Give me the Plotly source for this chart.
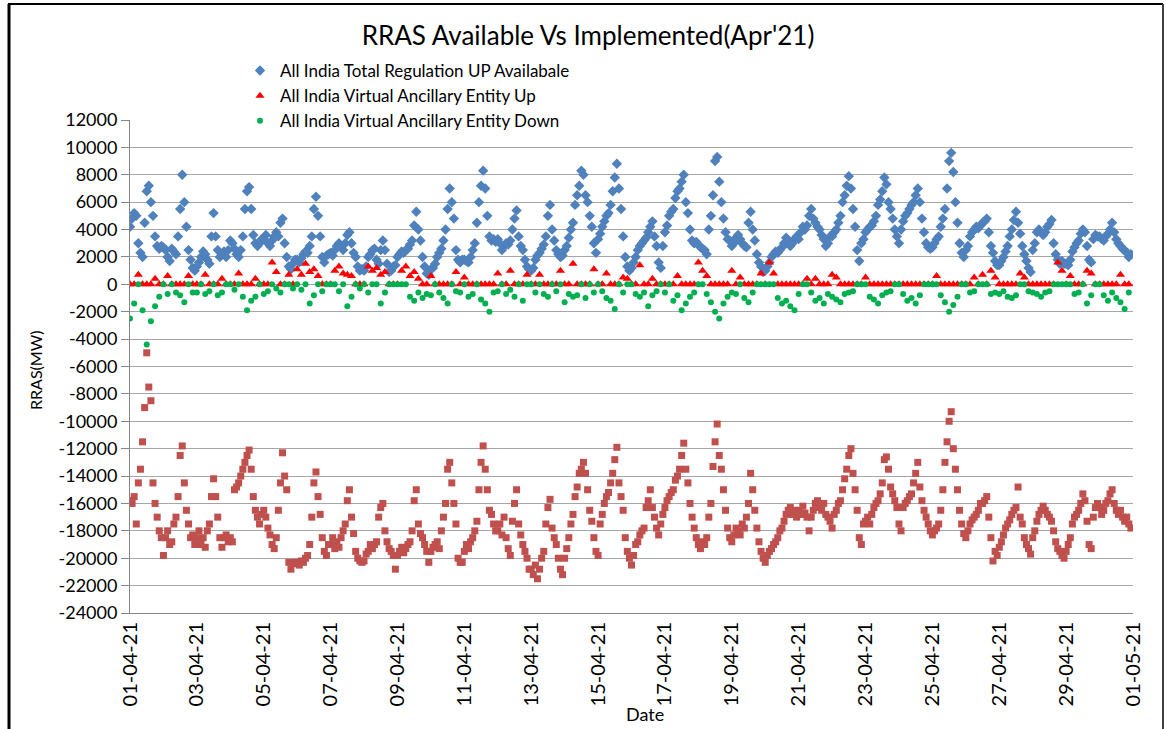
import pandas as pd
import plotly.graph_objects as go

start_date = "2021-04-01"
n_days = 30

# ---- All India Total Regulation UP Availabale (MW), 1.5-hourly, 16 per day ----
reg_up_available = [
    4200, 4800, 5200, 5000, 3000, 2300, 2000, 4500, 6800, 7200, 6000, 5000, 3500, 2800, 2600, 2800,  # 01-04
    2700, 2500, 2000, 1700, 2600, 2400, 2200, 3500, 5500, 8000, 6000, 4200, 2500, 1800, 1200, 1000,  # 02-04
    1300, 1600, 2000, 2400, 2200, 1800, 1500, 3500, 5200, 3500, 2500, 2000, 2200, 2400, 2000, 2500,  # 03-04
    3200, 3000, 2600, 2200, 2000, 2500, 3500, 5500, 6800, 7100, 5500, 3600, 3000, 2800, 3000, 3300,  # 04-04
    3300, 3600, 3000, 2800, 3200, 3500, 3800, 3500, 4500, 4800, 3000, 2000, 1300, 1100, 1500, 1800,  # 05-04
    1800, 1600, 1900, 2200, 2400, 2300, 2800, 3500, 5500, 6400, 5000, 3500, 2000, 1600, 2100, 2200,  # 06-04
    2300, 2100, 2500, 2800, 3000, 2700, 2500, 3000, 3600, 3800, 3000, 2300, 2000, 1300, 1000, 1100,  # 07-04
    1000, 1300, 2000, 2200, 2500, 2600, 1800, 1500, 2500, 3200, 2500, 1500, 900, 1000, 1300, 1400,    # 08-04
    2000, 2200, 2400, 2300, 2500, 2600, 2900, 3200, 4300, 5300, 4000, 3200, 2000, 1300, 800, 700,     # 09-04
    1100, 1200, 1500, 2000, 2300, 2600, 3200, 4000, 5500, 7000, 6000, 4800, 2500, 1800, 1600, 1800,  # 10-04
    1800, 1700, 1600, 2000, 2500, 3000, 4500, 6000, 7200, 8300, 7000, 5000, 3500, 3200, 3300, 3100,  # 11-04
    3300, 3000, 2500, 2800, 3000, 2900, 3200, 4000, 4800, 5400, 3500, 2800, 2500, 1800, 1300, 1100,  # 12-04
    1000, 1200, 1800, 2100, 2300, 2600, 2900, 3500, 5000, 5800, 4000, 3200, 2500, 2200, 2000, 2100,  # 13-04
    2500, 2800, 3400, 4000, 4500, 5800, 6500, 7200, 8300, 8000, 6500, 6000, 5000, 4200, 3000, 2300,  # 14-04
    3300, 3700, 4200, 4600, 5000, 5200, 5800, 6800, 7800, 8800, 7000, 5500, 3500, 2000, 1300, 1000,  # 15-04
    1200, 1600, 2000, 2500, 2800, 3000, 3200, 3400, 3800, 4200, 4600, 3500, 2800, 1600, 1200, 2800,  # 16-04
    3800, 4300, 5000, 5300, 5500, 6300, 6800, 7000, 7500, 8000, 6000, 5200, 4000, 3200, 3000, 3100,  # 17-04
    2900, 2700, 2600, 2500, 2200, 4000, 5000, 6500, 9000, 9300, 7500, 6000, 4800, 3800, 3300, 3200,  # 18-04
    2800, 3000, 3400, 3600, 3300, 3000, 2800, 2700, 4500, 5300, 4000, 3200, 2200, 1600, 1300, 900,   # 19-04
    1000, 1300, 1600, 2000, 2200, 2400, 2300, 2500, 2700, 3000, 3400, 3200, 2800, 3000, 3300, 3500,  # 20-04
    3300, 3800, 4200, 4000, 4300, 5000, 5500, 4800, 4500, 4200, 4000, 3600, 3300, 2800, 3000, 3500,  # 21-04
    3500, 3800, 4000, 4500, 5000, 6000, 6500, 7200, 7900, 7000, 5500, 4200, 2500, 1700, 3000, 3300,  # 22-04
    3800, 4000, 4200, 4300, 4600, 5000, 5800, 6200, 6800, 7800, 7300, 6000, 5500, 4800, 4000, 3500,  # 23-04
    3000, 4000, 4600, 5000, 5200, 5500, 5800, 6000, 6500, 7000, 6000, 4800, 3800, 3000, 2700, 2600,  # 24-04
    2700, 3000, 3300, 3500, 4200, 4800, 5500, 7000, 9000, 9600, 8200, 6000, 4500, 3000, 2300, 2000,  # 25-04
    2500, 2800, 3500, 3800, 4000, 4200, 4100, 4300, 4500, 4600, 4800, 3800, 2800, 2300, 1700, 1400,  # 26-04
    1400, 1700, 2000, 2400, 2800, 3500, 4000, 4700, 5300, 4500, 3700, 2800, 2200, 1700, 1200, 900,   # 27-04
    2500, 3000, 3800, 4000, 3800, 3600, 3800, 4200, 4400, 4700, 3000, 2200, 1800, 1500, 1700, 1500,  # 28-04
    1500, 1400, 1800, 2400, 2700, 3000, 3200, 3700, 4000, 3800, 2800, 1800, 1600, 3300, 3600, 3500,  # 29-04
    3500, 3300, 3200, 3500, 3700, 4000, 4500, 3800, 3300, 3000, 2800, 2600, 2500, 2300, 2000, 2200,  # 30-04
]

# ---- All India Total Regulation DOWN Available (MW), 1.5-hourly, 16 per day ----
reg_down_available = [
    -15800, -16000, -15500, -17500, -14500, -13500, -11500, -9000, -5000, -7500, -8500, -14500, -16000, -17000, -18000, -18500,
    -19800, -18500, -18000, -19000, -18800, -17500, -17000, -15500, -12500, -11800, -14500, -16500, -17500, -18500, -18300, -19000,
    -18500, -18000, -19000, -18500, -19200, -18000, -17500, -15500, -14200, -15500, -17000, -18500, -19200, -18500, -18300, -18800,
    -18500, -18800, -15000, -14800, -14500, -14000, -13500, -13000, -12500, -12100, -13500, -15500, -16500, -17000, -17500, -16800,
    -16500, -17000, -17800, -18300, -19000, -19300, -18500, -16500, -14500, -12300, -14000, -15000, -20300, -20800, -20400, -20300,
    -20300, -20500, -20200, -20300, -20000, -19800, -19000, -17000, -14500, -13700, -15500, -16800, -18500, -19500, -19800, -19000,
    -19000, -18500, -19300, -18800, -19200, -18500, -18000, -17500, -15800, -15000, -17000, -18200, -19500, -20000, -20200, -20300,
    -20200, -19700, -19500, -19000, -19300, -19000, -18800, -17000, -16300, -16000, -18000, -18800, -19300, -19500, -19800, -20800,
    -19800, -19500, -19200, -19600, -19300, -19000, -18800, -18000, -15800, -15000, -17500, -18200, -18500, -19000, -19500, -20300,
    -19500, -19200, -19000, -18800, -19300, -18000, -17000, -16000, -13500, -13000, -14500, -16000, -17500, -20000, -20300, -20300,
    -19500, -19000, -19300, -18800, -18500, -18000, -17300, -15000, -13000, -11800, -13500, -15000, -16500, -16800, -17500, -18000,
    -18000, -17500, -18300, -17000, -18500, -19300, -19800, -17300, -16000, -15000, -17500, -18300, -19000, -19500, -20000, -20800,
    -20800, -21200, -20500, -21500, -20800, -20000, -19500, -17500, -16300, -15700, -17800, -18500, -19000, -20000, -20800, -21200,
    -20000, -19300, -18500, -17500, -16800, -15500, -14800, -13800, -13500, -13000, -13800, -15000, -16500, -17300, -18500, -19500,
    -19800, -17500, -16800, -16000, -15500, -15200, -14500, -13800, -12800, -11900, -14500, -15500, -16500, -18500, -19500, -20000,
    -20500, -19800, -19000, -18800, -18300, -18000, -17800, -16300, -15800, -15000, -16300, -17000, -17800, -18300, -17500, -16800,
    -16300, -15800, -15500, -15200, -15000, -14300, -14000, -13500, -12500, -11600, -13500, -14500, -16000, -17000, -17800, -18500,
    -19000, -19300, -18800, -19000, -18500, -17000, -16000, -13300, -11500, -10200, -12500, -13500, -15000, -16500, -17800, -18500,
    -18800, -18300, -17800, -18000, -18300, -17500, -17800, -17000, -16000, -13800, -15000, -16500, -17800, -18800, -19500, -20000,
    -20300, -19800, -19500, -19300, -19000, -18800, -18500, -18000, -17800, -17300, -16800, -16500, -16300, -16800, -16500, -17000,
    -16500, -16800, -16200, -16700, -17000, -18000, -17000, -16500, -16000, -15800, -16300, -16500, -16000, -16800, -17000, -17300,
    -17800, -16800, -16500, -16000, -15800, -15000, -14200, -13500, -12500, -12000, -13800, -15000, -16500, -18500, -19000, -17500,
    -17300, -17000, -17500, -16800, -16300, -16000, -15800, -15300, -14500, -12800, -12600, -13500, -14800, -15300, -15800, -16300,
    -17500, -18000, -16300, -16000, -15800, -15500, -15300, -14500, -13800, -13000, -14800, -15800, -16500, -17000, -17500, -18000,
    -18300, -18000, -17800, -17500, -16500, -15000, -13000, -11500, -10000, -9300, -12000, -13500, -15000, -16500, -17500, -18200,
    -18500, -18000, -17500, -17200, -17000, -16800, -16500, -16000, -16000, -15800, -15500, -17000, -18500, -20200, -19500, -19800,
    -19200, -18800, -18300, -17800, -17500, -17200, -16800, -16500, -16300, -14800, -17000, -17500, -18500, -19000, -19300, -19700,
    -18500, -18000, -17300, -16800, -16500, -16200, -16500, -16800, -17000, -17300, -18000, -18800, -19300, -19500, -19800, -20000,
    -19500, -19000, -18500, -17500, -17000, -16800, -16500, -16000, -15300, -15800, -17300, -19000, -19300, -17000, -16300, -16000,
    -16300, -16800, -16500, -16000, -15800, -15300, -15000, -16000, -16500, -16800, -16500, -17000, -17300, -17000, -17500, -17800,
]

# ---- All India Virtual Ancillary Entity Up (MW), 3-hourly, 8 per day ----
vae_up = [
    0, 0, 700, 0, 0, 0, 400, 0,
    0, 600, 0, 0, 0, 0, 600, 0,
    0, 0, 700, 0, 0, 0, 400, 0,
    0, 0, 800, 0, 0, 0, 400, 0,
    0, 0, 1600, 900, 0, 0, 700, 0,
    1100, 700, 1500, 900, 1100, 600, 0, 0,
    0, 1000, 1300, 800, 700, 600, 0, 0,
    0, 1300, 1000, 1200, 700, 900, 0, 0,
    0, 1000, 1300, 600, 900, 400, 0, 0,
    600, 0, 0, 0, 0, 0, 900, 0,
    500, 0, 0, 0, 0, 0, 0, 0,
    800, 0, 0, 1000, 0, 0, 0, 700,
    0, 0, 700, 0, 0, 0, 0, 1000,
    0, 0, 1500, 0, 0, 0, 0, 1100,
    0, 0, 800, 0, 0, 0, 500, 400,
    0, 0, 1400, 0, 0, 400, 0, 0,
    0, 0, 0, 600, 0, 0, 0, 0,
    1600, 1000, 600, 0, 0, 0, 0, 0,
    1000, 0, 500, 0, 0, 0, 0, 800,
    0, 1600, 800, 0, 0, 0, 0, 0,
    0, 0, 400, 0, 400, 0, 0, 0,
    700, 500, 0, 0, 0, 0, 0, 0,
    500, 0, 0, 0, 0, 0, 0, 0,
    0, 0, 0, 0, 0, 0, 0, 0,
    0, 600, 0, 0, 0, 0, 0, 0,
    0, 0, 500, 0, 700, 0, 1000, 500,
    0, 0, 0, 0, 0, 800, 500, 0,
    0, 0, 0, 0, 0, 0, 1600, 1000,
    0, 600, 0, 0, 0, 1000, 800, 0,
    0, 0, 0, 0, 0, 700, 0, 0,
]

# ---- All India Virtual Ancillary Entity Down (MW), 3-hourly, 8 per day ----
vae_down = [
    -2500, -1400, 0, -1900, -4400, -2700, -1600, -900,
    0, -700, 0, -600, -800, -1300, 0, -600,
    -600, 0, -700, -500, 0, -800, -600, 0,
    0, -400, 0, -900, -1900, -1200, -900, 0,
    -700, -500, 0, -300, -600, 0, 0, -300,
    0, -400, 0, -1400, -800, 0, -500, 0,
    0, 0, -500, 0, -1600, -900, 0, -300,
    0, -600, 0, 0, -1400, -600, 0, 0,
    0, 0, 0, -900, -1200, -600, -1000, -700,
    -800, 0, -600, -1000, -1400, 0, -500, -600,
    0, -900, -700, 0, -1100, -1400, -2000, -600,
    -500, 0, -700, -400, -900, 0, -1200, 0,
    0, -600, 0, -700, -900, 0, -500, 0,
    -1300, -700, -900, -800, 0, -1000, 0, -600,
    0, -500, -1000, -1200, -1800, 0, -600, 0,
    0, -700, -900, -600, -1600, -800, -500, 0,
    -600, 0, -1200, -800, -1900, -1400, -900, -600,
    0, 0, -700, -1300, -2000, -2500, -1400, -900,
    -600, -700, 0, -1000, -1300, -600, 0, 0,
    0, 0, 0, -1000, -1400, -1200, -1600, -1900,
    -700, 0, 0, -600, -1200, -1000, -1400, -700,
    -900, -1100, -1300, -700, -600, -500, 0, 0,
    0, -900, -1100, -1400, -800, -600, -500, 0,
    0, -700, -1200, -1000, -1400, -800, 0, 0,
    0, 0, -800, -1300, -2000, -1500, -900, 0,
    0, -600, -500, 0, 0, 0, -700, -600,
    -700, -500, -900, -1000, -800, 0, 0, -500,
    -600, -700, -900, -600, -500, 0, 0, 0,
    0, 0, -700, -600, 0, -1400, -800, 0,
    0, -800, -1200, -600, -1000, -1300, -1800, -600,
]

series_names = [
    "All India Total Regulation UP Availabale",
    "All India Virtual Ancillary Entity Up",
    "All India Virtual Ancillary Entity Down",
    "All India Total Regulation DOWN Availabale",
]
chart_title = "RRAS Available Vs Implemented(Apr'21)"
y_ticks = list(range(-24000, 12001, 2000))

t_fine = pd.date_range(start_date, periods=len(reg_up_available), freq="90min")
t_coarse = pd.date_range(start_date, periods=len(vae_up), freq="3h")

FONT = "Lato, Carlito, Calibri, sans-serif"
fig = go.Figure()
fig.add_trace(go.Scatter(
    x=t_fine, y=reg_up_available, mode="markers", name=series_names[0],
    marker=dict(symbol="diamond", size=8, color="#4F81BD"),
))
fig.add_trace(go.Scatter(
    x=t_fine, y=reg_down_available, mode="markers", name=series_names[3],
    marker=dict(symbol="square", size=7, color="#C0504D"), showlegend=False,
))
fig.add_trace(go.Scatter(
    x=t_coarse, y=vae_up, mode="markers", name=series_names[1],
    marker=dict(symbol="triangle-up", size=8, color="#FF0000"),
))
fig.add_trace(go.Scatter(
    x=t_coarse, y=vae_down, mode="markers", name=series_names[2],
    marker=dict(symbol="circle", size=6, color="#00B050"),
))

W, H = 1166, 729
L, R, T, B = 130, 1133, 120, 613
pw, ph = R - L, B - T

def px(x):
    return (x - L) / pw

def py(y):
    return (B - y) / ph

fig.update_layout(
    width=W, height=H,
    margin=dict(l=L, r=W - R, t=T, b=H - B, autoexpand=False),
    paper_bgcolor="white", plot_bgcolor="white",
    font=dict(family=FONT, color="black", size=18),
    title=dict(text=chart_title, x=588 / W, y=1 - 36 / H,
               xanchor="center", yanchor="middle", xref="container", yref="container",
               font=dict(size=26, family=FONT, color="black")),
    showlegend=True,
    legend=dict(x=px(240), y=py(53), xanchor="left", yanchor="top",
                font=dict(size=17, family=FONT), bgcolor="rgba(0,0,0,0)",
                tracegroupgap=0, itemsizing="trace"),
    xaxis=dict(
        type="date", range=["2021-04-01", "2021-05-01"],
        tick0="2021-04-01", dtick=2 * 86400000, tickformat="%d-%m-%y",
        tickangle=-90, showgrid=False, showline=True, linecolor="#868686",
        linewidth=1, ticks="", zeroline=False, tickfont=dict(size=20),
    ),
    yaxis=dict(
        range=[-24000, 12000], tickvals=y_ticks, ticktext=[str(v) for v in y_ticks],
        showgrid=True, gridcolor="#A6A6A6", gridwidth=1, showline=True,
        linecolor="#868686", ticks="outside", ticklen=8, tickcolor="#868686",
        zeroline=False, tickfont=dict(size=18),
    ),
    annotations=[
        dict(text="RRAS(MW)", x=px(35), y=py(370), xref="paper", yref="paper",
             textangle=-90, showarrow=False, font=dict(size=16, family=FONT),
             xanchor="center", yanchor="middle"),
        dict(text="Date", x=px(645), y=py(714), xref="paper", yref="paper",
             showarrow=False, font=dict(size=18, family=FONT),
             xanchor="center", yanchor="middle"),
    ],
    shapes=[
        dict(type="line", xref="paper", yref="paper", x0=px(9), x1=px(9), y0=py(4), y1=py(735),
             line=dict(color="black", width=3)),
        dict(type="line", xref="paper", yref="paper", x0=px(8), x1=px(1163), y0=py(4), y1=py(4),
             line=dict(color="black", width=2)),
        dict(type="line", xref="paper", yref="paper", x0=px(1163), x1=px(1163), y0=py(4), y1=py(735),
             line=dict(color="#404040", width=2)),
    ],
)

fig.write_html("out.html", config={"displayModeBar": False},
               post_script="document.body.style.margin='0px';")
